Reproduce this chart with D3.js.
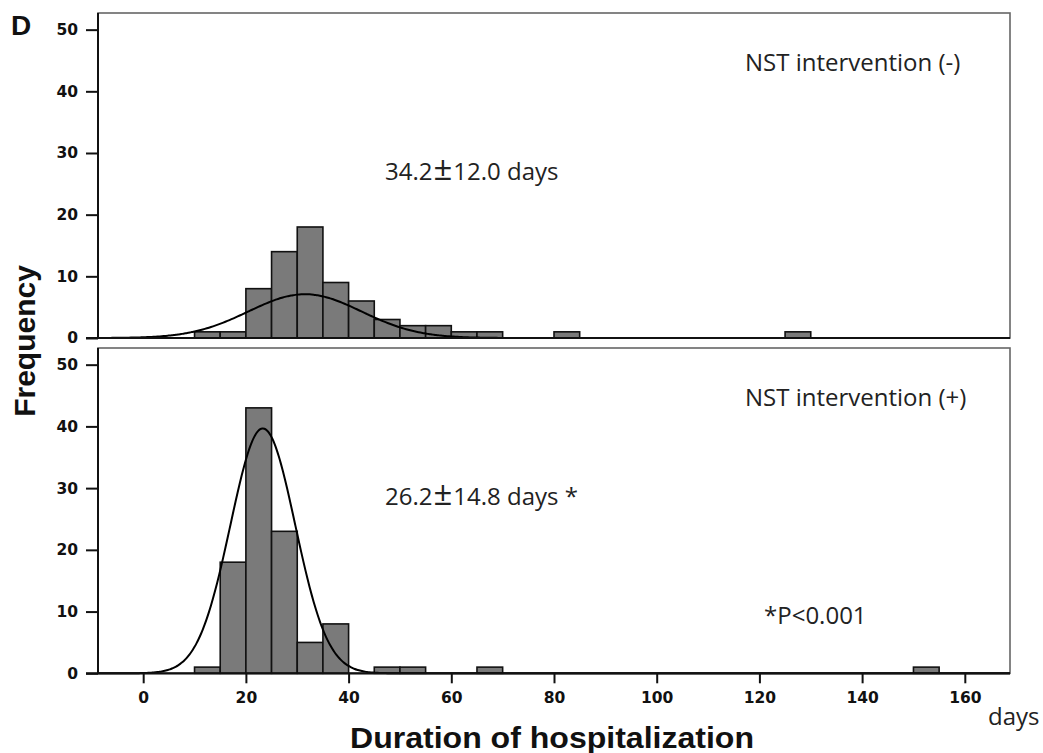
<!DOCTYPE html>
<html><head><meta charset="utf-8">
<script src="https://cdn.jsdelivr.net/npm/d3@7"></script>
<style>body{margin:0;background:#fff}svg{display:block}</style>
</head><body>
<svg id="c" width="1043" height="753"></svg>
<script>
// ---- data ----
const binStarts = [10,15,20,25,30,35,40,45,50,55,60,65,70,75,80,85,90,95,100,105,110,115,120,125,130,135,140,145,150,155];
const countsWithout = [1,1,8,14,18,9,6,3,2,2,1,1,0,0,1,0,0,0,0,0,0,0,0,1,0,0,0,0,0,0];
const countsWith    = [1,18,43,23,5,8,0,1,1,0,0,1,0,0,0,0,0,0,0,0,0,0,0,0,0,0,0,0,1,0];
const binWidth = 5;
const xTicks = [0,20,40,60,80,100,120,140,160];
const yTicks = [0,10,20,30,40,50];
const panelLabels = ["NST intervention (-)", "NST intervention (+)"];
const statMeans = ["34.2", "26.2"];
const statSDs = ["12.0 days", "14.8 days *"];
// fitted normal curves: [mean, sd, peak height]
const curveWithout = [31.5, 11.0, 7.1];
const curveWith = [23.3, 6.3, 39.7];

const svg = d3.select("#c");
const x = d3.scaleLinear().domain([-8.8, 168.8]).range([98, 1010]);
const panels = [
  {top:13, bottom:338, counts:countsWithout, curve:curveWithout, lab:panelLabels[0], mean:statMeans[0], sd:statSDs[0], labY:71, statY:180},
  {top:348, bottom:673.3, counts:countsWith, curve:curveWith, lab:panelLabels[1], mean:statMeans[1], sd:statSDs[1], labY:406, statY:505}
];
const font = "'Open Sans', 'Noto Sans', sans-serif";
const tickFont = "'DejaVu Sans', sans-serif";
const boldFont = "'Liberation Sans', Arial, sans-serif";

panels.forEach((p, i) => {
  const y = d3.scaleLinear().domain([0, 52.7]).range([p.bottom, p.top]);
  const g = svg.append("g");
  // frame
  g.append("rect").attr("x", x.range()[0]).attr("y", p.top)
    .attr("width", x.range()[1]-x.range()[0]).attr("height", p.bottom-p.top)
    .attr("fill","none").attr("stroke","#666").attr("stroke-width",1.6);
  // bars
  const bars = binStarts.map((b,k)=>({x0:b, v:p.counts[k]})).filter(d=>d.v>0);
  g.selectAll("rect.bar").data(bars).join("rect").attr("class","bar")
    .attr("x", d=>x(d.x0)).attr("width", d=>x(d.x0+binWidth)-x(d.x0))
    .attr("y", d=>y(d.v)).attr("height", d=>y(0)-y(d.v))
    .attr("fill","#7a7a7a").attr("stroke","#111").attr("stroke-width",1.6);
  // curve
  const [m, s, pk] = p.curve;
  const pts = d3.range(-8.8, 168.9, 0.4).map(t=>[t, pk*Math.exp(-((t-m)*(t-m))/(2*s*s))]);
  g.append("path").datum(pts)
    .attr("d", d3.line().x(d=>x(d[0])).y(d=>y(d[1])).curve(d3.curveBasis))
    .attr("fill","none").attr("stroke","#000").attr("stroke-width",2);
  // y axis
  const ya = d3.axisLeft(y).tickValues(yTicks).tickSize(12).tickPadding(8).tickFormat(d3.format("d"));
  const yg = g.append("g").attr("transform",`translate(${x.range()[0]},0)`).call(ya);
  yg.select(".domain").attr("stroke","#111").attr("stroke-width",2).attr("d", `M0,${p.top}V${p.bottom}`);
  yg.selectAll(".tick line").attr("stroke","#111").attr("stroke-width",2);
  yg.selectAll(".tick text").attr("font-family",tickFont).attr("font-weight","bold")
    .attr("font-size",15.5).attr("fill","#111");
  // bottom line
  g.append("line").attr("x1",x.range()[0]-12).attr("x2",x.range()[1]).attr("y1",p.bottom).attr("y2",p.bottom)
    .attr("stroke","#111").attr("stroke-width",2.2);
  // labels
  g.append("text").attr("x",745).attr("y",p.labY)
    .attr("font-family",font).attr("font-size",24).attr("fill","#222").text(p.lab);
  const st = g.append("text").attr("x",385).attr("y",p.statY)
    .attr("font-family",font).attr("font-size",24).attr("fill","#222");
  st.append("tspan").text(p.mean);
  st.append("tspan").attr("font-size",33).attr("dx",1).text("\u00B1");
  st.append("tspan").attr("dx",1).text(p.sd);
  if (i === 1) {
    const xa = d3.axisBottom(x).tickValues(xTicks).tickSize(10).tickPadding(9).tickFormat(d3.format("d"));
    const xg = g.append("g").attr("transform",`translate(0,${p.bottom})`).call(xa);
    xg.select(".domain").remove();
    xg.selectAll(".tick line").attr("stroke","#111").attr("stroke-width",2);
    xg.selectAll(".tick text").attr("font-family",tickFont).attr("font-weight","bold")
      .attr("font-size",15.5).attr("fill","#111");
    g.append("text").attr("x",764).attr("y",624)
      .attr("font-family",font).attr("font-size",24).attr("fill","#222").text("*P<0.001");
  }
});

svg.append("text").attr("x",11).attr("y",35).attr("font-family",boldFont)
  .attr("font-weight","bold").attr("font-size",28).attr("fill","#111").text("D");
svg.append("text").attr("transform","translate(35,341) rotate(-90)").attr("text-anchor","middle")
  .attr("font-family",boldFont).attr("font-weight","bold")
  .attr("font-size",30).attr("fill","#111").text("Frequency");
svg.append("text").attr("x",552).attr("y",748).attr("text-anchor","middle")
  .attr("font-family",boldFont).attr("font-weight","bold")
  .attr("font-size",30).attr("textLength",404).attr("lengthAdjust","spacingAndGlyphs")
  .attr("fill","#111").text("Duration of hospitalization");
svg.append("text").attr("x",988).attr("y",725)
  .attr("font-family",font).attr("font-size",24).attr("fill","#222").text("days");
</script>
</body></html>
